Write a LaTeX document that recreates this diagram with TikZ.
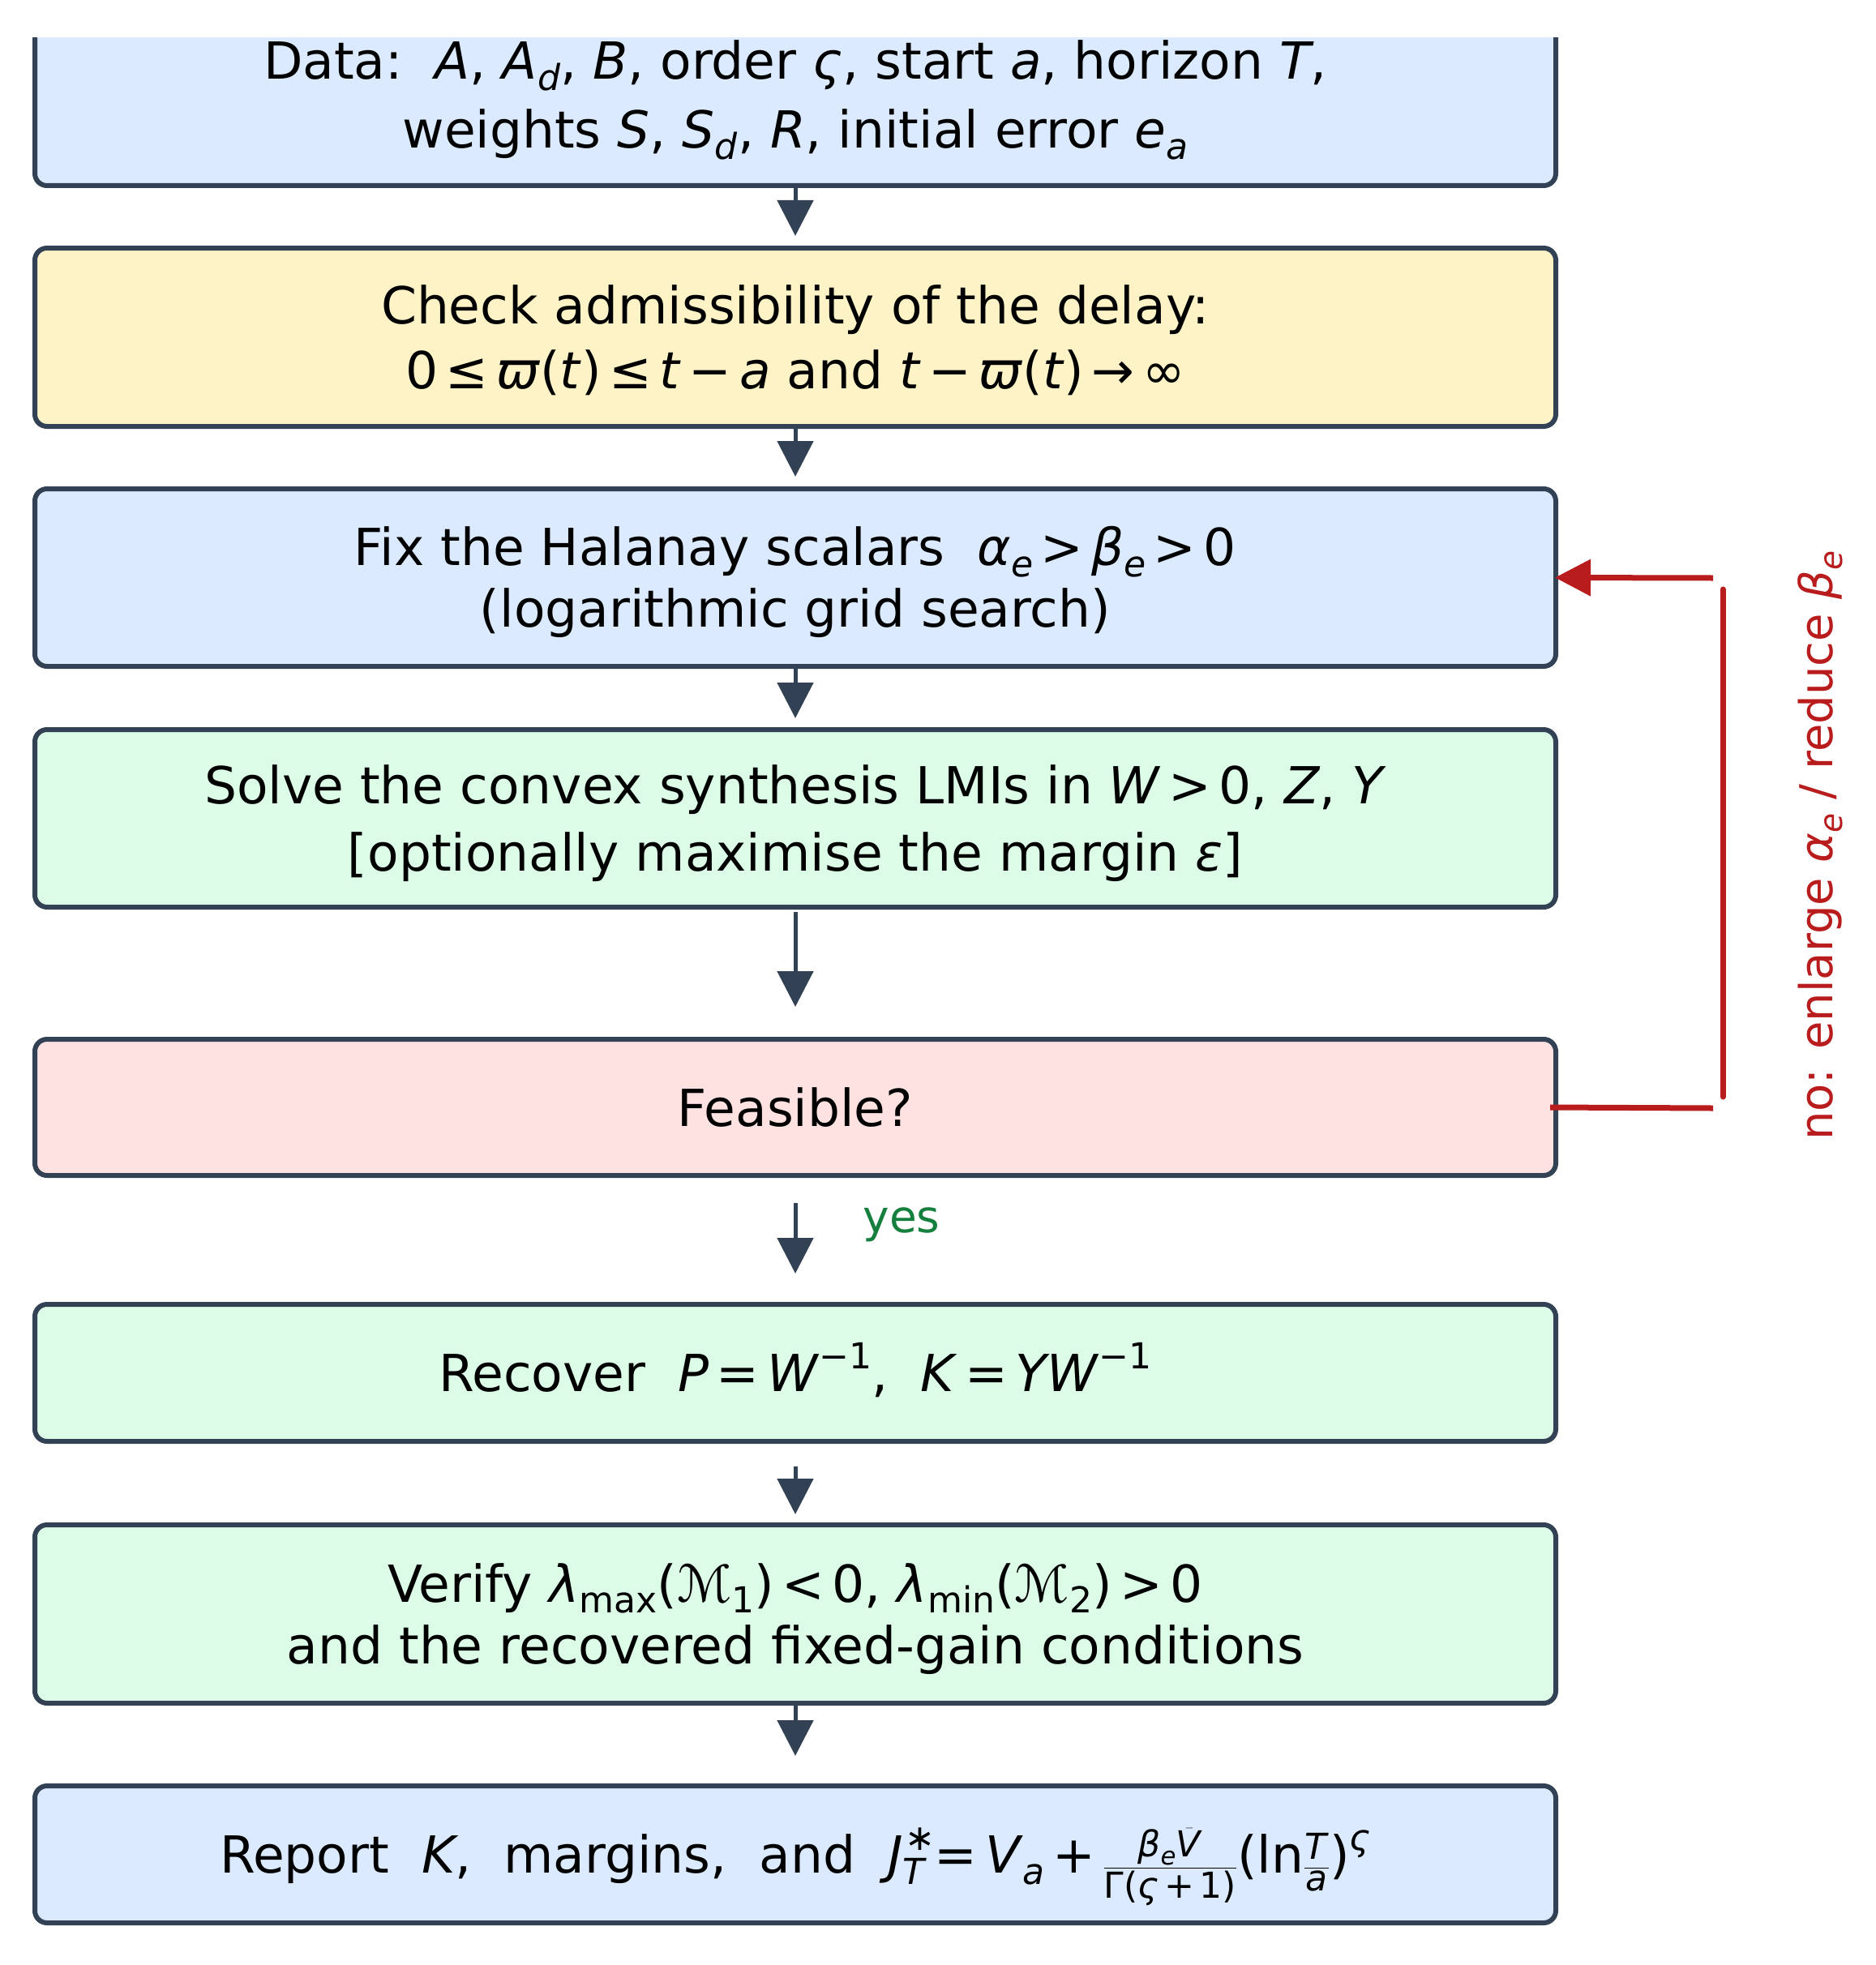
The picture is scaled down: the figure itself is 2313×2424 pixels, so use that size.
\documentclass[tikz,border=0pt]{standalone}
\usepackage{fontspec}
\usepackage{amsmath}
\setmainfont{DejaVu Sans}
\usetikzlibrary{arrows.meta}
\definecolor{edgec}{HTML}{334155}
\definecolor{fblue}{HTML}{DBEAFE}
\definecolor{fyellow}{HTML}{FEF3C7}
\definecolor{fgreen}{HTML}{DCFCE7}
\definecolor{fred}{HTML}{FEE2E2}
\definecolor{loopred}{HTML}{B91C1C}
\definecolor{yesgreen}{HTML}{15803D}
\makeatletter
\newcommand\smallsz{\fontsize{\the\dimexpr0.7\dimexpr\f@size pt\relax\relax}{0pt}\selectfont}
\makeatother
\newcommand\vi[1]{\textit{#1}}
\newcommand\sbs[1]{\raisebox{-0.22em}{\smallsz #1}}
\newcommand\sps[1]{\raisebox{0.45em}{\smallsz #1}}
\newcommand\supsub[2]{\makebox[0pt][l]{\hspace{0.05em}\sps{#1}}\sbs{#2}}
\newcommand\ffrac[2]{$\dfrac{\text{\smallsz #1}}{\text{\smallsz #2}}$}
\newcommand\rl{\hspace{0.15em}}
\tikzset{
  flowbox/.style={draw=edgec, line width=6pt, rounded corners=15pt,
    minimum width=1876pt, align=center, text=black, inner sep=0pt,
    text depth=20pt},
  oneline/.style={font=\fontsize{63}{80}\selectfont, text height=66pt},
  flowarr/.style={draw=edgec, line width=5pt, -{Triangle[length=44pt,width=44pt]}},
  looparr/.style={draw=loopred, line width=7pt},
  annot/.style={inner sep=0pt}
}
\begin{document}
\begin{tikzpicture}[x=1pt,y=-1pt]
\useasboundingbox (0,0) rectangle (2313,2424);

\node[flowbox, fill=fblue, minimum height=224pt,
      font=\fontsize{63}{85}\selectfont, text height=151pt] (b1) at (981,117)
  {Data:\ \ \vi{A}, \vi{A}\sbs{\vi{d}}, \vi{B}, order \vi{ς}, start \vi{a}, horizon \vi{T},\\
   weights \vi{S}, \vi{S}\sbs{\vi{d}}, \vi{R}, initial error \vi{e}\sbs{\vi{a}}};
\fill[white] (0,0) rectangle (2313,46);

\node[flowbox, fill=fyellow, minimum height=220pt,
      font=\fontsize{63}{80}\selectfont, text height=146pt] (b2) at (981,416)
  {Check admissibility of the delay:\\
   0\rl≤\rl\vi{ϖ}(\vi{t})\rl≤\rl\vi{t}\rl−\rl\vi{a} and \vi{t}\rl−\rl\vi{ϖ}(\vi{t})\rl→\rl∞};

\node[flowbox, fill=fblue, minimum height=219pt,
      font=\fontsize{63}{76}\selectfont, text height=142pt] (b3) at (981,712.5)
  {Fix the Halanay scalars\ \ \vi{α}\sbs{\vi{e}}\rl>\rl\vi{β}\sbs{\vi{e}}\rl>\rl0\\
   (logarithmic grid search)};

\node[flowbox, fill=fgreen, minimum height=219pt,
      font=\fontsize{63}{83}\selectfont, text height=149pt] (b4) at (981,1009.5)
  {Solve the convex synthesis LMIs in \vi{W}\rl>\rl0, \vi{Z}, \vi{Y}\\
   {[}optionally maximise the margin \vi{ε}{]}};

\node[flowbox, oneline, fill=fred, minimum height=168pt] (b5) at (981,1366)
  {Feasible?};

\node[flowbox, oneline, fill=fgreen, minimum height=169pt] (b6) at (981,1693.5)
  {Recover\ \ \vi{P}\rl=\rl\vi{W}\sps{−1},\ \ \vi{K}\rl=\rl\vi{YW}\sps{−1}};

\node[flowbox, fill=fgreen, minimum height=220pt,
      font=\fontsize{63}{76}\selectfont, text height=142pt] (b7) at (981,1991)
  {Verify \vi{λ}\sbs{max}(ℳ\sbs{1})\rl<\rl0, \vi{λ}\sbs{min}(ℳ\sbs{2})\rl>\rl0\\
   and the recovered fixed-gain conditions};

\node[flowbox, oneline, fill=fblue, minimum height=169pt] (b8) at (981,2287.5)
  {Report\ \ \vi{K},\ \ margins,\ \ and\ \ \vi{J}\supsub{∗}{\vi{T}}\rl=\rl\vi{V}\sbs{\vi{a}}\rl+\rl\ffrac{\vi{β}\sbs{\vi{e}}$\bar{\text{\vi{V}}}$}{Γ(\vi{ς}\rl+\rl1)}(ln\ffrac{\vi{T}}{\vi{a}})\sps{\vi{ς}}};

% main flow arrows
\draw[flowarr, shorten >=12pt] (b1.south) -- (b2.north);
\draw[flowarr, shorten >=12pt] (b2.south) -- (b3.north);
\draw[flowarr, shorten >=11pt] (b3.south) -- (b4.north);
\draw[flowarr, shorten <=3pt, shorten >=37pt] (b4.south) -- (b5.north);
\draw[flowarr, shorten <=31pt, shorten >=35pt] (b5.south) -- (b6.north);
\draw[flowarr, shorten <=28pt, shorten >=10pt] (b6.south) -- (b7.north);
\draw[flowarr, shorten >=34pt] (b7.south) -- (b8.north);

\node[annot, font=\fontsize{55}{66}\selectfont, text=yesgreen] (yes) at (1112,1511) {yes};

% feedback loop
\coordinate (fbLow) at (2113,1367);
\coordinate (fbHigh) at (2113,713);
\coordinate (vTop) at (2125,727);
\coordinate (vBot) at (2125,1353);
\draw[looparr] ([xshift=-10pt]b5.east) -- (fbLow);
\draw[looparr, line cap=round] (vBot) -- (vTop);
\draw[looparr, -{Triangle[length=44pt,width=44pt]}] (fbHigh) -- ([xshift=-4pt]b3.east);
\node[annot, font=\fontsize{56}{66}\selectfont, text=loopred, rotate=90] (nolab) at (2245,1043)
  {no: enlarge \vi{α}\sbs{\vi{e}} / reduce \vi{β}\sbs{\vi{e}}};
\end{tikzpicture}
\end{document}
